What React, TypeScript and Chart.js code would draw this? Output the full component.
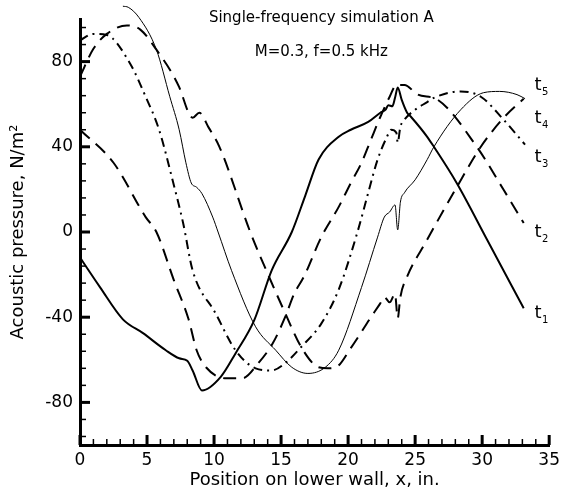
import React, { useEffect, useRef } from "react";
import { Chart, registerables } from "chart.js";

Chart.register(...registerables);

const FONT = "'DejaVu Sans', 'Liberation Sans', sans-serif";

// ---- data ----
const t1X = [0, 1.5, 3.2, 4.7, 6.4, 7.4, 8.0, 8.4, 9.1, 10.5, 11.6, 13.0, 14.3, 15.8, 16.8, 17.8, 19.3, 20.2, 21.5, 22.4, 22.8, 23.0, 23.3, 23.5, 23.7, 24.0, 24.4, 24.7, 25.9, 26.4, 28.1, 30.4, 33.1];
const t1Y = [-12, -26, -41, -47.5, -55.5, -59.3, -60.5, -65, -74.4, -68, -57, -41.4, -18, 0, 17, 34, 44.7, 48, 51.7, 56, 57.5, 59.5, 59, 63, 67.8, 62, 56, 54, 44.7, 40, 23, -4, -35.8];

const t2X = [0, 2.5, 4.9, 5.7, 7.0, 8.1, 8.7, 9.4, 10.9, 12.1, 13.3, 14.4, 15.3, 16.0, 16.7, 18.0, 19.3, 20.2, 21.0, 21.7, 22.4, 23.1, 23.6, 24.2, 25.2, 26.7, 29.6, 31.6, 33.1];
const t2Y = [48, 32.5, 7, 0, -22.6, -41, -55.5, -63.5, -68.7, -68.7, -61.6, -52, -40, -28.7, -21, -2.4, 11.8, 23, 32.5, 43.3, 54, 63.5, 69, 69, 64.5, 62, 40, 19.8, 4.2];

const t3X = [0, 1.0, 2.0, 3.7, 4.9, 5.9, 6.9, 7.7, 8.4, 10.1, 11.6, 13.1, 14.3, 15.3, 16.5, 18.0, 19.3, 20.7, 21.5, 22.2, 22.9, 23.2, 23.6, 23.7, 23.9, 24.2, 25.0, 25.9, 26.4, 28.4, 29.9, 31.6, 33.2];
const t3Y = [90, 93, 92.5, 79.5, 63.5, 48, 24.5, 4, -18, -38, -55.5, -64, -65, -61.6, -54, -43, -27, 0, 18.4, 34, 44.7, 48, 46.6, 42, 49.4, 52.7, 57.4, 61, 63, 66, 63.5, 52.7, 41];

const t4X = [3.2, 3.6, 4.4, 5.7, 6.7, 7.4, 7.9, 8.3, 8.7, 9.1, 9.9, 10.3, 11.3, 13.1, 14.6, 15.8, 17.0, 18.3, 19.3, 21.0, 22.2, 22.7, 23.1, 23.5, 23.7, 23.9, 24.2, 25.0, 25.9, 26.4, 28.4, 30.1, 31.3, 32.6, 33.2];
const t4Y = [106, 105.5, 100.7, 85.6, 63.5, 48, 32.5, 23, 21, 18, 7, 0, -18, -44.5, -55.5, -63.5, -66.4, -63.5, -55.5, -26, -2.4, 7, 9.4, 12.7, 1, 14, 18.4, 24.5, 34, 40, 57.4, 65.4, 66, 64.5, 62.6];

const t5X = [0, 1.0, 2.0, 3.5, 4.5, 5.7, 7.4, 8.1, 8.4, 8.9, 9.6, 10.4, 12.7, 14.1, 15.3, 16.5, 17.8, 18.5, 19.1, 20.2, 21.7, 22.4, 22.7, 23.1, 23.5, 23.7, 23.9, 24.4, 25.8, 28.1, 29.9, 31.6, 33.1];
const t5Y = [73, 86, 93, 97, 95, 85.6, 68, 56, 53.6, 56, 49, 40, 0, -21, -38, -54, -63.5, -64, -63.5, -54.5, -40, -33.5, -30.5, -33, -29, -40.5, -30.5, -21, -4.7, 21, 40, 53.6, 62.6];

const curveNames = ["t1", "t2", "t3", "t4", "t5"];
const curveSubs = ["1", "2", "3", "4", "5"];
const curveLabelY = [-40.5, -2.4, 33, 51.3, 66.8];
const curveLabelX = 33.9;

const titleLines = ["Single-frequency simulation A", "M=0.3, f=0.5 kHz"];
const xTitle = "Position on lower wall, x, in.";
const yTitle = "Acoustic pressure, N/m\u00B2";

const xMin = 0, xMax = 35, xStep = 1, xMajor = 5;
const yMin = -100, yMax = 100, yStep = 8, yMajor = 40;

function pts(xs: number[], ys: number[]) {
  return xs.map((x, i) => ({ x, y: ys[i] }));
}

function stepValues(lo: number, hi: number, step: number) {
  const out: { value: number }[] = [];
  const start = Math.ceil(lo / step);
  const end = Math.floor(hi / step);
  for (let k = start; k <= end; k++) out.push({ value: k * step });
  return out;
}

const isMult = (v: number, m: number) => Math.abs(v / m - Math.round(v / m)) < 1e-6;

const decorPlugin = {
  id: "decor",
  afterDraw(chart: any) {
    const { ctx, chartArea, scales } = chart;
    const xs = scales.x, ys = scales.y;
    ctx.save();
    ctx.strokeStyle = "#000";
    ctx.lineCap = "butt";
    for (const t of xs.ticks) {
      const v = t.value;
      const major = isMult(v, xMajor);
      const px = xs.getPixelForValue(v);
      ctx.lineWidth = major ? 3 : 1.5;
      ctx.beginPath();
      ctx.moveTo(px, chartArea.bottom);
      ctx.lineTo(px, chartArea.bottom - (major ? 10 : 6));
      ctx.stroke();
    }
    for (const t of ys.ticks) {
      const v = t.value;
      const major = isMult(v, yMajor);
      const py = ys.getPixelForValue(v);
      ctx.lineWidth = major ? 3 : 1.5;
      ctx.beginPath();
      ctx.moveTo(chartArea.left, py);
      ctx.lineTo(chartArea.left + (major ? 10 : 6), py);
      ctx.stroke();
    }
    // title lines
    ctx.fillStyle = "#000";
    ctx.textAlign = "center";
    ctx.textBaseline = "alphabetic";
    ctx.font = `15px ${FONT}`;
    const cx = xs.getPixelForValue(18);
    ctx.fillText(titleLines[0], cx, 22);
    ctx.fillText(titleLines[1], cx, 56);
    // curve labels
    ctx.textAlign = "left";
    curveNames.forEach((_, i) => {
      const px = xs.getPixelForValue(curveLabelX);
      const py = ys.getPixelForValue(curveLabelY[i]);
      ctx.font = `18px ${FONT}`;
      ctx.fillText("t", px, py);
      const w = ctx.measureText("t").width;
      ctx.font = `10px ${FONT}`;
      ctx.fillText(curveSubs[i], px + w + 0.5, py + 5);
    });
    ctx.restore();
  },
};

export default function App() {
  const ref = useRef<HTMLCanvasElement | null>(null);
  useEffect(() => {
    if (!ref.current) return;
    const common = { pointRadius: 0, fill: false, borderColor: "#000", cubicInterpolationMode: "monotone" as const, clip: { left: 2, top: 14, right: 4, bottom: 2 } };
    const chart = new Chart(ref.current, {
      type: "line",
      data: {
        datasets: [
          { ...common, label: curveNames[0], data: pts(t1X, t1Y), borderWidth: 2 },
          { ...common, label: curveNames[1], data: pts(t2X, t2Y), borderWidth: 2, borderDash: [13, 8] },
          { ...common, label: curveNames[2], data: pts(t3X, t3Y), borderWidth: 2, borderDash: [9, 5, 2, 5] },
          { ...common, label: curveNames[3], data: pts(t4X, t4Y), borderWidth: 1 },
          { ...common, label: curveNames[4], data: pts(t5X, t5Y), borderWidth: 2, borderDash: [13, 8] },
        ] as any,
      },
      options: {
        animation: false,
        responsive: true,
        maintainAspectRatio: false,
        layout: { padding: { left: 0, top: 19, right: 12, bottom: 0 } },
        plugins: { legend: { display: false }, tooltip: { enabled: false }, title: { display: false } },
        scales: {
          x: {
            type: "linear",
            min: xMin,
            max: xMax,
            afterBuildTicks: (s: any) => { s.ticks = stepValues(xMin, xMax, xStep); },
            ticks: {
              autoSkip: false,
              maxRotation: 0,
              padding: 5,
              color: "#000",
              font: { family: FONT, size: 17 },
              callback: (v: any) => (isMult(v, xMajor) ? String(v) : ""),
            },
            grid: { display: true, drawOnChartArea: false, drawTicks: false, color: "rgba(0,0,0,0)" },
            border: { display: true, width: 3, color: "#000" },
            title: { display: true, text: xTitle, color: "#000", font: { family: FONT, size: 18 }, padding: { top: 0, bottom: 4 } },
            afterFit: (s: any) => { s.height = 50; },
          },
          y: {
            type: "linear",
            min: yMin,
            max: yMax,
            afterBuildTicks: (s: any) => { s.ticks = stepValues(yMin, yMax, yStep); },
            ticks: {
              autoSkip: false,
              padding: 7,
              color: "#000",
              font: { family: FONT, size: 17 },
              callback: (v: any) => (isMult(v, yMajor) ? String(v) : ""),
            },
            grid: { display: true, drawOnChartArea: false, drawTicks: false, color: "rgba(0,0,0,0)" },
            border: { display: true, width: 3, color: "#000" },
            title: { display: true, text: yTitle, color: "#000", font: { family: FONT, size: 18 }, padding: { top: 8, bottom: 0 } },
            afterFit: (s: any) => { s.width = 80; },
          },
        },
      } as any,
      plugins: [decorPlugin],
    });
    return () => chart.destroy();
  }, []);
  return (
    <div style={{ position: "fixed", left: 0, top: 0, width: 565, height: 495, background: "#fff" }}>
      <canvas ref={ref} />
    </div>
  );
}
